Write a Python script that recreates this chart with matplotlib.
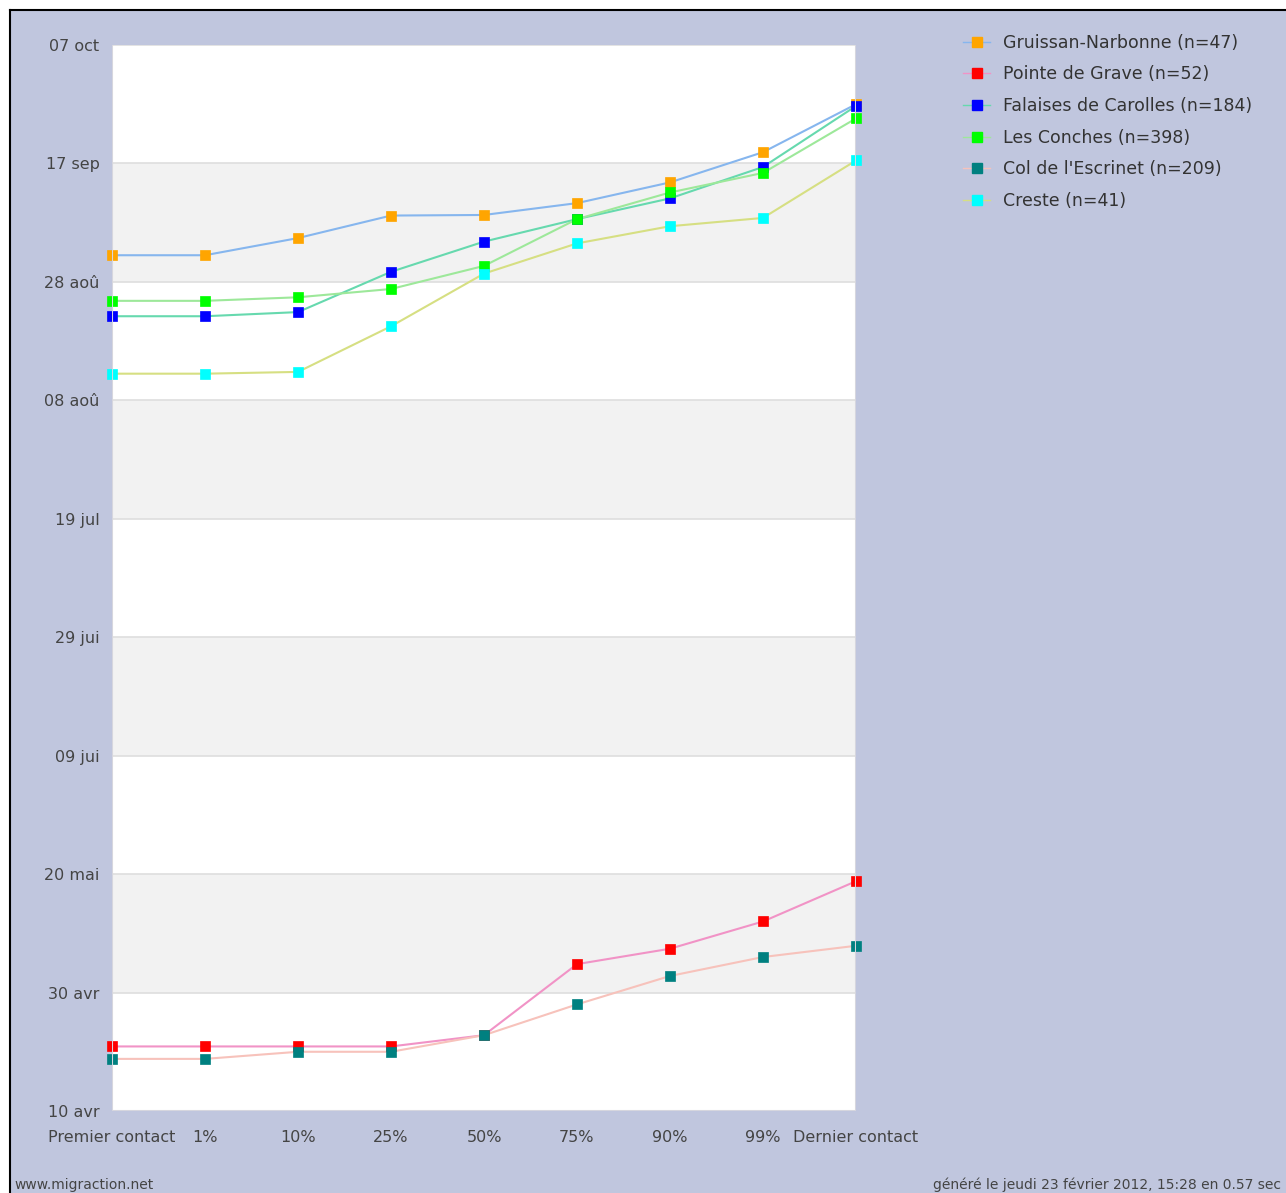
import matplotlib
matplotlib.use("Agg")
import matplotlib.pyplot as plt
from matplotlib.patches import Rectangle
from matplotlib.lines import Line2D

# ---- data (days after 10 avr) ----
categories = ["Premier contact", "1%", "10%", "25%", "50%", "75%", "90%", "99%", "Dernier contact"]
y_ticklabels = ["10 avr", "30 avr", "20 mai", "09 jui", "29 jui", "19 jul", "08 aoû", "28 aoû", "17 sep", "07 oct"]

series_names = ["Gruissan-Narbonne (n=47)", "Pointe de Grave (n=52)", "Falaises de Carolles (n=184)",
                "Les Conches (n=398)", "Col de l'Escrinet (n=209)", "Creste (n=41)"]
gruissan = [144.5, 144.5, 147.4, 151.2, 151.3, 153.3, 156.8, 161.9, 170.0]
pointe_grave = [10.9, 10.9, 10.9, 10.9, 12.8, 24.8, 27.4, 32.0, 38.8]
falaises = [134.2, 134.2, 134.9, 141.7, 146.8, 150.6, 154.1, 159.4, 169.7]
conches = [136.8, 136.8, 137.4, 138.8, 142.7, 150.6, 155.1, 158.4, 167.6]
escrinet = [8.8, 8.8, 10.0, 10.0, 12.8, 18.0, 22.8, 26.0, 27.9]
creste = [124.5, 124.5, 124.8, 132.5, 141.4, 146.5, 149.4, 150.8, 160.5]
series_values = [gruissan, pointe_grave, falaises, conches, escrinet, creste]

marker_colors = ["#ffa500", "#ff0000", "#0000ff", "#00ff00", "#008080", "#00ffff"]
line_colors = ["#86b6ee", "#f193c6", "#66d9ae", "#9de89a", "#f7c2bb", "#d6df82"]

BG = "#c0c6de"
W, H = 1286, 1193
fig = plt.figure(figsize=(W / 100, H / 100), dpi=100)
fig.patch.set_facecolor(BG)

# white strips outside the black border (left/top)
fig.patches.append(Rectangle((0, 0), 10 / W, 1, transform=fig.transFigure,
                             facecolor="white", edgecolor="none", zorder=-5))
fig.patches.append(Rectangle((0, 1 - 10 / H), 1, 10 / H, transform=fig.transFigure,
                             facecolor="white", edgecolor="none", zorder=-5))
fig.add_artist(Line2D([10 / W, 10 / W], [0, 1 - 10 / H], transform=fig.transFigure, color="black", lw=1.5))
fig.add_artist(Line2D([10 / W, 1], [1 - 10 / H, 1 - 10 / H], transform=fig.transFigure, color="black", lw=1.5))

left, right, top, bottom = 112, 856, 45, 1111
ax = fig.add_axes([left / W, 1 - bottom / H, (right - left) / W, (bottom - top) / H])
ax.set_facecolor("white")
ax.set_xlim(0, len(categories) - 1)
ax.set_ylim(0, 180)

# alternating bands
yt = [20 * i for i in range(len(y_ticklabels))]
for i in range(len(yt) - 1):
    if i % 2 == 1:
        ax.axhspan(yt[i], yt[i + 1], facecolor="#f2f2f2", edgecolor="none", zorder=0)
for v in yt:
    ax.axhline(v, color="#dedede", lw=1.2, zorder=0.5)

xs = list(range(len(categories)))
for vals, mc, lc in zip(series_values, marker_colors, line_colors):
    ax.plot(xs, vals, color=lc, lw=1.5, zorder=2)
    ax.plot(xs, vals, ls="none", marker="s", markersize=6.8, markerfacecolor=mc,
            markeredgecolor=mc, markeredgewidth=0.5, clip_on=False, zorder=3)

for s in ax.spines.values():
    s.set_visible(False)
ax.axvline(0, color="#d6d6de", lw=1.5, zorder=4)
ax.axvline(len(categories) - 1, color="#d6d6de", lw=1.5, zorder=4)
ax.axhline(0, color="#d6d6de", lw=1.5, zorder=4)

ax.set_yticks(yt)
ax.set_yticklabels(y_ticklabels)
ax.set_xticks(xs)
ax.set_xticklabels(categories)
ax.tick_params(axis="both", length=0, colors="#444444", labelsize=11.5)
ax.tick_params(axis="y", pad=9)
ax.tick_params(axis="x", pad=14)

# legend
handles = [Line2D([0], [0], color=lc, lw=1, marker="s", markersize=7.5,
                  markerfacecolor=mc, markeredgecolor=mc)
           for mc, lc in zip(marker_colors, line_colors)]
fig.legend(handles, series_names, loc="upper left", bbox_to_anchor=(947 / W, 1 - 18 / H),
           frameon=False, fontsize=12.5, labelcolor="#333333", handlelength=1.6,
           handletextpad=0.75, labelspacing=0.79)

fig.text(14 / W, 1 - 1185 / H, "www.migraction.net", fontsize=10, color="#444444", va="center")
fig.text(933 / W, 1 - 1185 / H, "généré le jeudi 23 février 2012, 15:28 en 0.57 sec",
         fontsize=10, color="#444444", va="center")

fig.savefig("out.png", dpi=100, facecolor=fig.get_facecolor())
